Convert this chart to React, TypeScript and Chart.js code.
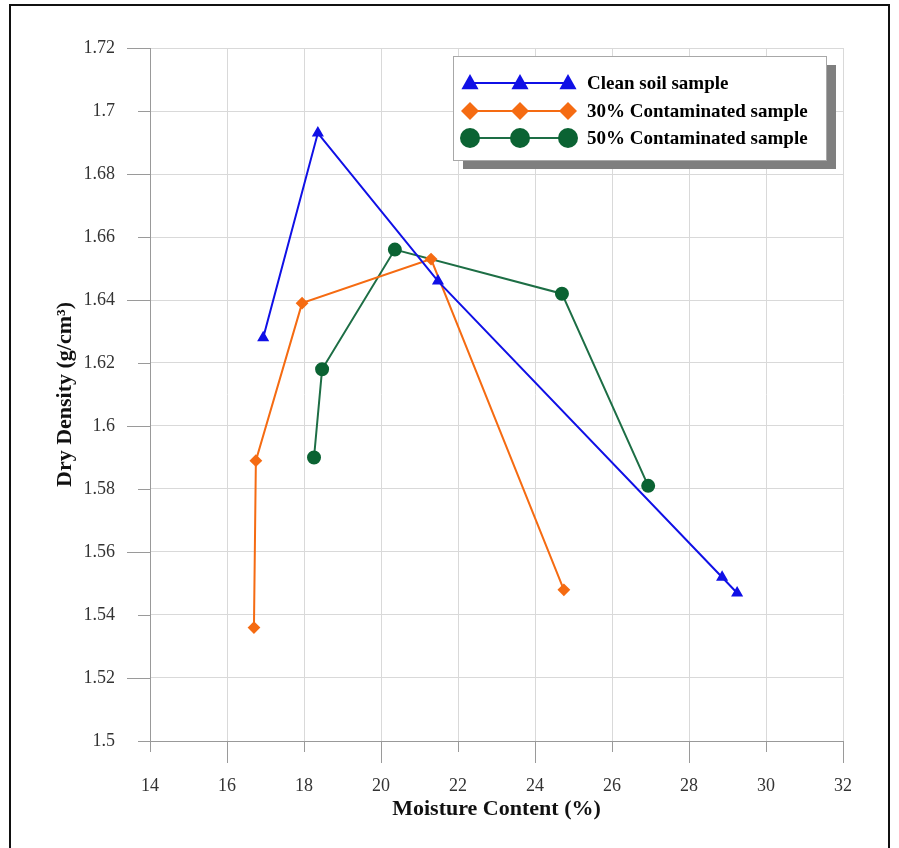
import React, { useEffect, useRef } from "react";
import { Chart, registerables } from "chart.js";

Chart.register(...registerables);

// ---- data ----
const cleanX = [16.94, 18.36, 21.48, 28.86, 29.25];
const cleanY = [1.628, 1.693, 1.646, 1.552, 1.547];
const c30X = [16.70, 16.75, 17.95, 21.30, 24.75];
const c30Y = [1.536, 1.589, 1.639, 1.653, 1.548];
const c50X = [18.26, 18.47, 20.36, 24.70, 26.94];
const c50Y = [1.590, 1.618, 1.656, 1.642, 1.581];

const seriesLabels = ["Clean soil sample", "30% Contaminated sample", "50% Contaminated sample"];
const xTicks = [14, 16, 18, 20, 22, 24, 26, 28, 30, 32];
const yTicks = [1.5, 1.52, 1.54, 1.56, 1.58, 1.6, 1.62, 1.64, 1.66, 1.68, 1.7, 1.72];
const xTitle = "Moisture Content (%)";
const yTitle = "Dry Density (g/cm\u00B3)";

const BLUE = "#1010e6";
const ORANGE = "#f56b12";
const GREEN_LINE = "#1d6e45";
const GREEN_PT = "#0b6333";
const FONT = '"Liberation Serif", "Times New Roman", serif';

const toPts = (xs: number[], ys: number[]) => xs.map((x, i) => ({ x, y: ys[i] }));

function drawMarker(ctx: CanvasRenderingContext2D, style: string, x: number, y: number, r: number, color: string) {
  ctx.save();
  ctx.fillStyle = color;
  ctx.beginPath();
  if (style === "triangle") {
    ctx.moveTo(x, y - r);
    ctx.lineTo(x + r * 0.95, y + r * 0.7);
    ctx.lineTo(x - r * 0.95, y + r * 0.7);
    ctx.closePath();
  } else if (style === "rectRot") {
    ctx.moveTo(x, y - r);
    ctx.lineTo(x + r, y);
    ctx.lineTo(x, y + r);
    ctx.lineTo(x - r, y);
    ctx.closePath();
  } else {
    ctx.arc(x, y, r, 0, Math.PI * 2);
  }
  ctx.fill();
  ctx.restore();
}

const tickMarksPlugin = {
  id: "tickMarks",
  afterDraw(chart: any) {
    const ctx = chart.ctx;
    const xs = chart.scales.x;
    const ys = chart.scales.y;
    const area = chart.chartArea;
    ctx.save();
    ctx.strokeStyle = "#9a9a9a";
    ctx.lineWidth = 1;
    xs.ticks.forEach((t: any, i: number) => {
      const px = Math.round(xs.getPixelForValue(t.value)) + 0.5;
      const len = i % 2 === 1 ? 22 : 11;
      ctx.beginPath();
      ctx.moveTo(px, area.bottom);
      ctx.lineTo(px, area.bottom + len);
      ctx.stroke();
    });
    ys.ticks.forEach((t: any, i: number) => {
      const py = Math.round(ys.getPixelForValue(t.value)) + 0.5;
      const len = i % 2 === 1 ? 23 : 12;
      ctx.beginPath();
      ctx.moveTo(area.left, py);
      ctx.lineTo(area.left - len, py);
      ctx.stroke();
    });
    ctx.restore();
  },
};

const legendPlugin = {
  id: "customLegend",
  afterDraw(chart: any) {
    const ctx = chart.ctx;
    const bx = 453, by = 56, bw = 373, bh = 104;
    ctx.save();
    ctx.fillStyle = "#7f7f7f";
    ctx.fillRect(bx + 10, by + 9, bw, bh);
    ctx.fillStyle = "#ffffff";
    ctx.fillRect(bx, by, bw, bh);
    ctx.strokeStyle = "#a8a8a8";
    ctx.lineWidth = 1;
    ctx.strokeRect(bx + 0.5, by + 0.5, bw, bh);
    const rows = [83, 111, 138];
    const sizes = [9, 9, 10];
    chart.data.datasets.forEach((ds: any, i: number) => {
      const y = rows[i];
      ctx.strokeStyle = ds.borderColor;
      ctx.lineWidth = 2;
      ctx.beginPath();
      ctx.moveTo(470, y);
      ctx.lineTo(568, y);
      ctx.stroke();
      [470, 520, 568].forEach((mx) => drawMarker(ctx, ds.pointStyle, mx, y, sizes[i], ds.pointBackgroundColor));
      ctx.fillStyle = "#000";
      ctx.font = `bold 19px ${FONT}`;
      ctx.textBaseline = "middle";
      ctx.textAlign = "left";
      ctx.fillText(ds.label, 587, y + 1);
    });
    ctx.restore();
  },
};

export default function App() {
  const ref = useRef<HTMLCanvasElement>(null);
  useEffect(() => {
    if (!ref.current) return;
    const chart = new Chart(ref.current, {
      type: "scatter",
      data: {
        datasets: [
          {
            label: seriesLabels[0],
            data: toPts(cleanX, cleanY),
            showLine: true,
            borderColor: BLUE,
            backgroundColor: BLUE,
            pointBackgroundColor: BLUE,
            pointBorderColor: BLUE,
            pointStyle: "triangle",
            pointRadius: 5,
            borderWidth: 2,
          },
          {
            label: seriesLabels[1],
            data: toPts(c30X, c30Y),
            showLine: true,
            borderColor: ORANGE,
            backgroundColor: ORANGE,
            pointBackgroundColor: ORANGE,
            pointBorderColor: ORANGE,
            pointStyle: "rectRot",
            pointRadius: 5,
            borderWidth: 2,
          },
          {
            label: seriesLabels[2],
            data: toPts(c50X, c50Y),
            showLine: true,
            borderColor: GREEN_LINE,
            backgroundColor: GREEN_PT,
            pointBackgroundColor: GREEN_PT,
            pointBorderColor: GREEN_PT,
            pointStyle: "circle",
            pointRadius: 6,
            borderWidth: 2,
          },
        ] as any,
      },
      options: {
        responsive: false,
        animation: false,
        events: [],
        layout: { padding: { left: 0, top: 48, right: 56, bottom: 0 } },
        plugins: { legend: { display: false }, tooltip: { enabled: false } },
        scales: {
          x: {
            type: "linear",
            min: 14,
            max: 32,
            afterBuildTicks: (s: any) => { s.ticks = xTicks.map((v) => ({ value: v })); },
            afterFit: (s: any) => { s.height = 107; },
            ticks: {
              color: "#333",
              font: { family: FONT, size: 18 },
              padding: 12,
              maxRotation: 0,
              autoSkip: false,
            },
            grid: { color: "#d9d9d9", tickLength: 22, tickColor: "rgba(0,0,0,0)" },
            border: { color: "#999", width: 1 },
            title: {
              display: true,
              text: xTitle,
              color: "#111",
              font: { family: FONT, size: 22, weight: "bold" },
              padding: { top: 0, bottom: 25 },
            },
          },
          y: {
            type: "linear",
            min: 1.5,
            max: 1.72,
            afterBuildTicks: (s: any) => { s.ticks = yTicks.map((v) => ({ value: v })); },
            afterFit: (s: any) => { s.width = 150; },
            ticks: {
              color: "#333",
              font: { family: FONT, size: 18 },
              padding: 12,
              autoSkip: false,
              callback: (v: any) => String(Number(Number(v).toFixed(2))),
            },
            grid: { color: "#d9d9d9", tickLength: 23, tickColor: "rgba(0,0,0,0)" },
            border: { color: "#999", width: 1 },
            title: {
              display: true,
              text: yTitle,
              color: "#111",
              font: { family: FONT, size: 22, weight: "bold" },
              padding: { top: 52, bottom: 0 },
            },
          },
        },
      } as any,
      plugins: [tickMarksPlugin, legendPlugin],
    });
    return () => chart.destroy();
  }, []);

  return (
    <div style={{ position: "absolute", left: 0, top: 0, width: 899, height: 848, background: "#fff" }}>
      <canvas ref={ref} width={899} height={848} style={{ position: "absolute", left: 0, top: 0, width: 899, height: 848 }} />
      <div
        style={{
          position: "absolute",
          left: 9,
          top: 4,
          width: 881,
          height: 846,
          border: "2px solid #111",
          boxSizing: "border-box",
          pointerEvents: "none",
        }}
      />
    </div>
  );
}
